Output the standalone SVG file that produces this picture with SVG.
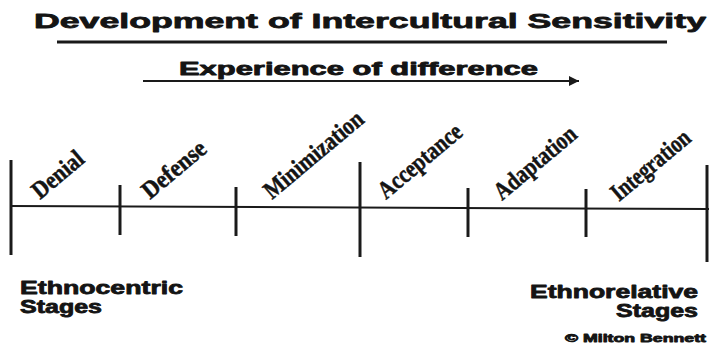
<svg xmlns="http://www.w3.org/2000/svg" width="709" height="348" viewBox="0 0 709 348">
<defs>
<style>
.hd{font-family:"Liberation Sans",Arial,sans-serif;font-weight:bold;fill:#141414;stroke:#141414;stroke-width:0.8;stroke-linejoin:round}
.st{font-family:"Liberation Serif","Times New Roman",serif;font-weight:bold;fill:#141414;stroke:#141414;stroke-width:0.5;font-size:25px}
.ln{stroke:#1a1a1a;fill:none}
.tk{stroke:#1a1a1a;stroke-width:3}
</style>
<marker id="ah" viewBox="0 0 10 10" refX="10" refY="5" markerWidth="14" markerHeight="10" markerUnits="userSpaceOnUse" orient="auto">
<path d="M0,0 L10,5 L0,10 z" fill="#1a1a1a"/>
</marker>
</defs>
<rect width="709" height="348" fill="#ffffff"/>
<g id="title">
<text class="hd" x="34" y="28" font-size="21" textLength="672" lengthAdjust="spacingAndGlyphs">Development of Intercultural Sensitivity</text>
<line class="ln" x1="57" y1="42" x2="667" y2="42" stroke-width="3"/>
</g>
<g id="experience">
<text class="hd" x="179" y="75" font-size="18" textLength="359" lengthAdjust="spacingAndGlyphs">Experience of difference</text>
</g>
<g id="connectors">
<line class="ln" x1="143" y1="81" x2="579" y2="81" stroke-width="2" marker-end="url(#ah)"/>
<line class="ln" x1="10" y1="206" x2="709" y2="209" stroke-width="2"/>
</g>
<g id="ticks">
<line class="tk" x1="11" y1="160" x2="11" y2="255"/>
<line class="tk" x1="120" y1="185" x2="120" y2="235"/>
<line class="tk" x1="236" y1="187" x2="236" y2="236"/>
<line class="tk" x1="360" y1="162" x2="360" y2="257"/>
<line class="tk" x1="468" y1="188" x2="468" y2="237"/>
<line class="tk" x1="586" y1="189" x2="586" y2="237"/>
<line class="tk" x1="707" y1="165" x2="707" y2="262"/>
</g>
<g id="stage-denial"><text class="st" transform="translate(40,200) rotate(-40)" textLength="60" lengthAdjust="spacingAndGlyphs">Denial</text></g>
<g id="stage-defense"><text class="st" transform="translate(150,200) rotate(-40)" textLength="76" lengthAdjust="spacingAndGlyphs">Defense</text></g>
<g id="stage-minimization"><text class="st" transform="translate(272,200) rotate(-40)" textLength="122" lengthAdjust="spacingAndGlyphs">Minimization</text></g>
<g id="stage-acceptance"><text class="st" transform="translate(386,200) rotate(-40)" textLength="102" lengthAdjust="spacingAndGlyphs">Acceptance</text></g>
<g id="stage-adaptation"><text class="st" transform="translate(502,201) rotate(-40)" textLength="100" lengthAdjust="spacingAndGlyphs">Adaptation</text></g>
<g id="stage-integration"><text class="st" transform="translate(619,202) rotate(-40)" textLength="96" lengthAdjust="spacingAndGlyphs">Integration</text></g>
<g id="ethnocentric">
<text class="hd" x="20" y="294" font-size="18" textLength="163" lengthAdjust="spacingAndGlyphs">Ethnocentric</text>
<text class="hd" x="20" y="313" font-size="18" textLength="82" lengthAdjust="spacingAndGlyphs">Stages</text>
</g>
<g id="ethnorelative">
<text class="hd" x="530" y="298" font-size="18" textLength="168" lengthAdjust="spacingAndGlyphs">Ethnorelative</text>
<text class="hd" x="616" y="317" font-size="18" textLength="82" lengthAdjust="spacingAndGlyphs">Stages</text>
</g>
<g id="copyright">
<text class="hd" x="565" y="342" font-size="11" textLength="141" lengthAdjust="spacingAndGlyphs" stroke-width="0.4">© Milton Bennett</text>
</g>
</svg>
